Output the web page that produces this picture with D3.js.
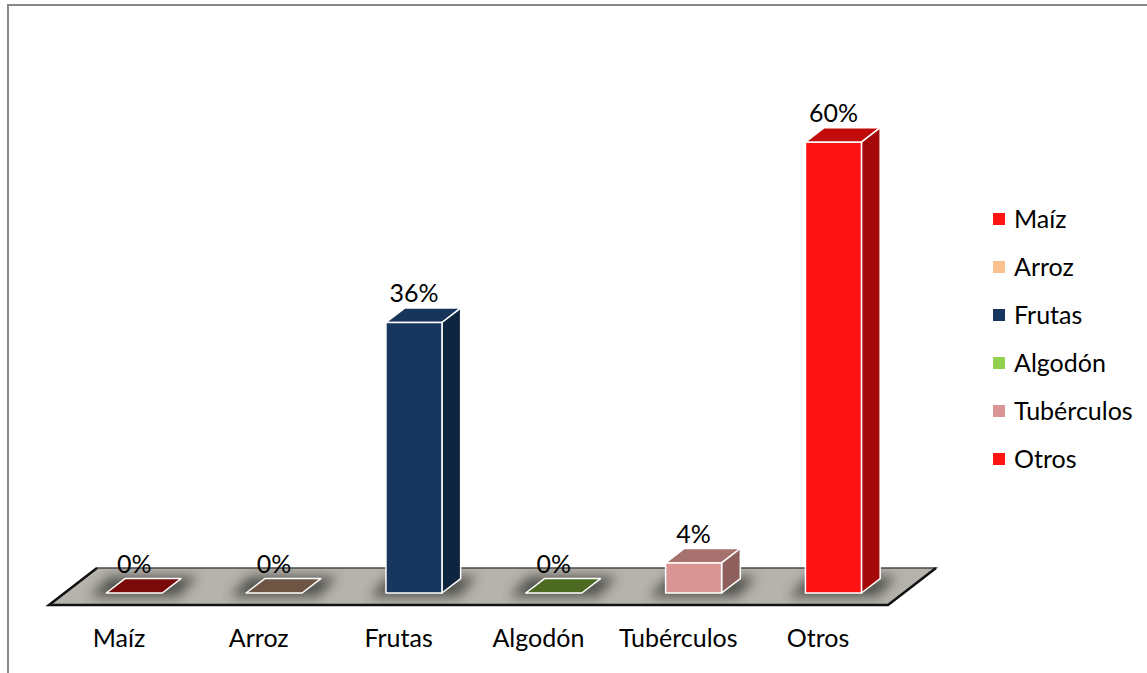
<!DOCTYPE html>
<html>
<head>
<meta charset="utf-8">
<script src="https://cdn.jsdelivr.net/npm/d3@7/dist/d3.min.js"></script>
<style>
  body { margin: 0; background: #fff; }
  svg { display: block; font-family: Lato, "Open Sans", sans-serif; }
</style>
</head>
<body>
<div id="chart"></div>
<script>
var categories = [ 'Maíz', 'Arroz', 'Frutas', 'Algodón', 'Tubérculos', 'Otros' ];
var values = [ 0, 0, 36, 0, 4, 60 ];
var valueLabels = [ '0%', '0%', '36%', '0%', '4%', '60%' ];
var legendColors = [ '#ff1414', '#fac090', '#17375e', '#92d050', '#d99694', '#ff1414' ];
// front / top / side shades per bar
var frontColors = [ '#7a0a0a', '#6e5443', '#17375e', '#4c6a22', '#d99694', '#ff1212' ];
var topColors = [ '#7a0a0a', '#6e5443', '#17345a', '#4c6a22', '#a6716e', '#c20b0b' ];
var sideColors = [ '#5c0707', '#554034', '#0f243e', '#3a5219', '#8d605d', '#a30909' ];

var width = 1147, height = 673;

var svg = d3.select( '#chart' )
  .append( 'svg' )
    .attr( 'width', width )
    .attr( 'height', height );

var defs = svg.append( 'defs' );
defs.append( 'filter' )
    .attr( 'id', 'blur' )
    .attr( 'x', '-50%' ).attr( 'y', '-50%' )
    .attr( 'width', '200%' ).attr( 'height', '200%' )
  .append( 'feGaussianBlur' )
    .attr( 'stdDeviation', 6 );

// frame
svg.append( 'path' )
  .attr( 'd', 'M8,673 L8,5 L1147,5' )
  .attr( 'fill', 'none' )
  .attr( 'stroke', '#888' )
  .attr( 'stroke-width', 2 );

var x = d3.scaleBand()
  .domain( categories )
  .range( [ 49, 888 ] );

var y = d3.scaleLinear()
  .domain( [ 0, 70 ] )
  .range( [ 593, 67 ] );

// oblique depth vector of the floor
var depthX = 48, depthY = -37;
var floorY = 605;
var d0 = 0.32, d1 = 0.71;
var barWidth = 56;

function pt( px, py ) { return px + ',' + py; }

// floor
var floorPts = [
  [ 49, floorY ], [ 49 + depthX, floorY + depthY ],
  [ 888 + depthX, floorY + depthY ], [ 888, floorY ]
];
svg.append( 'polygon' )
  .attr( 'points', floorPts.map( function( p ) { return pt( p[0], p[1] ); } ).join( ' ' ) )
  .attr( 'fill', '#b5b3ac' )
  .attr( 'stroke', '#4a4a4a' )
  .attr( 'stroke-width', 1.5 );

var clip = defs.append( 'clipPath' ).attr( 'id', 'floorClip' );
clip.append( 'polygon' )
  .attr( 'points', floorPts.map( function( p ) { return pt( p[0], p[1] ); } ).join( ' ' ) );

var data = categories.map( function( c, i ) {
  var cx = x( c ) + x.bandwidth() / 2;
  return {
    cat: c, value: values[i], label: valueLabels[i],
    left: cx + depthX * d0 - barWidth / 2,
    right: cx + depthX * d0 + barWidth / 2,
    i: i
  };
} );

var ddx = depthX * ( d1 - d0 ), ddy = depthY * ( d1 - d0 );

// soft shadows around the bar bases
svg.append( 'g' )
  .attr( 'clip-path', 'url(#floorClip)' )
  .selectAll( 'polygon' )
  .data( data )
  .enter()
  .append( 'polygon' )
    .attr( 'points', function( d ) {
      var b = y( 0 );
      return [
        pt( d.left - 16, b + 4 ), pt( d.right + 16, b + 4 ),
        pt( d.right + ddx + 16, b + ddy - 2 ), pt( d.left + ddx - 16, b + ddy - 2 )
      ].join( ' ' );
    } )
    .attr( 'fill', '#4a4944' )
    .attr( 'opacity', 0.9 )
    .attr( 'filter', 'url(#blur)' );

svg.append( 'path' )
  .attr( 'd', 'M' + pt( 49 + depthX, floorY + depthY ) + ' L' + pt( 49, floorY ) +
    ' L' + pt( 888, floorY ) + ' L' + pt( 888 + depthX, floorY + depthY ) )
  .attr( 'fill', 'none' )
  .attr( 'stroke', '#111' )
  .attr( 'stroke-width', 2.5 );

var bars = svg.selectAll( 'g.bar' )
  .data( data )
  .enter()
  .append( 'g' )
    .attr( 'class', 'bar' )
    .attr( 'stroke', '#fff' )
    .attr( 'stroke-width', 1.5 )
    .attr( 'stroke-linejoin', 'round' );

// top face
bars.append( 'polygon' )
  .attr( 'points', function( d ) {
    var t = y( d.value );
    return [
      pt( d.left, t ), pt( d.right, t ),
      pt( d.right + ddx, t + ddy ), pt( d.left + ddx, t + ddy )
    ].join( ' ' );
  } )
  .attr( 'fill', function( d ) { return topColors[d.i]; } );

// side face
bars.filter( function( d ) { return d.value > 0; } )
  .append( 'polygon' )
  .attr( 'points', function( d ) {
    var t = y( d.value ), b = y( 0 );
    return [
      pt( d.right, t ), pt( d.right + ddx, t + ddy ),
      pt( d.right + ddx, b + ddy ), pt( d.right, b )
    ].join( ' ' );
  } )
  .attr( 'fill', function( d ) { return sideColors[d.i]; } );

// front face
bars.filter( function( d ) { return d.value > 0; } )
  .append( 'rect' )
  .attr( 'x', function( d ) { return d.left; } )
  .attr( 'y', function( d ) { return y( d.value ); } )
  .attr( 'width', barWidth )
  .attr( 'height', function( d ) { return y( 0 ) - y( d.value ); } )
  .attr( 'fill', function( d ) { return frontColors[d.i]; } );

// value labels
svg.selectAll( 'text.value' )
  .data( data )
  .enter()
  .append( 'text' )
    .attr( 'class', 'value' )
    .attr( 'x', function( d ) { return ( d.left + d.right ) / 2; } )
    .attr( 'y', function( d ) { return y( d.value ) + ddy - 6; } )
    .attr( 'text-anchor', 'middle' )
    .style( 'font-size', '25px' )
    .style( 'fill', '#000' )
    .text( function( d ) { return d.label; } );

// category labels
svg.selectAll( 'text.cat' )
  .data( categories )
  .enter()
  .append( 'text' )
    .attr( 'class', 'cat' )
    .attr( 'x', function( d ) { return x( d ) + x.bandwidth() / 2; } )
    .attr( 'y', 647 )
    .attr( 'text-anchor', 'middle' )
    .style( 'font-size', '25px' )
    .style( 'fill', '#000' )
    .text( function( d ) { return d; } );

// legend
var legend = svg.selectAll( 'g.legend' )
  .data( categories )
  .enter()
  .append( 'g' )
    .attr( 'class', 'legend' )
    .attr( 'transform', function( d, i ) {
      return 'translate( 993,' + ( 219 + i * 48 ) + ' )';
    } );

legend.append( 'rect' )
  .attr( 'x', 0 )
  .attr( 'y', -6 )
  .attr( 'width', 12 )
  .attr( 'height', 12 )
  .style( 'fill', function( d, i ) { return legendColors[i]; } );

legend.append( 'text' )
  .attr( 'x', 21 )
  .attr( 'y', 9 )
  .style( 'font-size', '25px' )
  .style( 'fill', '#000' )
  .text( function( d ) { return d; } );
</script>
</body>
</html>
